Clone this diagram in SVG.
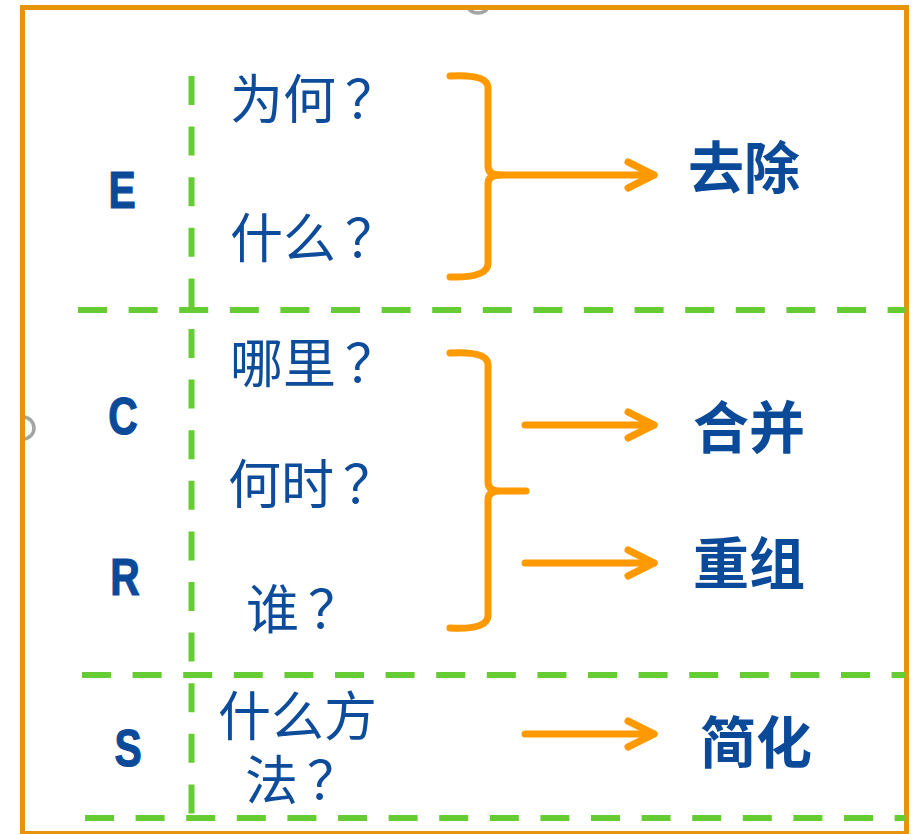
<svg xmlns="http://www.w3.org/2000/svg" width="914" height="834" viewBox="0 0 914 834">
<style>
.grid{stroke:#66CC33;stroke-width:6;fill:none;stroke-dasharray:29 21.6}
.q{font-family:"Noto Sans CJK SC","Noto Sans",sans-serif;font-size:53px;fill:#0D4C9B}
.res{font-family:"Noto Sans CJK SC","Noto Sans",sans-serif;font-size:56px;font-weight:bold;fill:#0B4A99}
.let{font-family:"Liberation Sans",Arial,sans-serif;font-size:51px;font-weight:bold;fill:#0B4A99;stroke:#0B4A99;stroke-width:1.2;text-anchor:middle}
.or{stroke:#FF9900;stroke-width:7;fill:none;stroke-linecap:round;stroke-linejoin:round}
.smudge{fill:none;stroke:#A4A4A4;stroke-width:3.5}
</style>
<defs>
<marker id="chev" markerUnits="userSpaceOnUse" markerWidth="40" markerHeight="40" refX="0" refY="0" orient="auto" overflow="visible">
<path d="M-26,-13 L0,0 L-26,13" fill="none" stroke="#FF9900" stroke-width="7" stroke-linecap="round" stroke-linejoin="round"/>
</marker>
</defs>
<rect width="914" height="834" fill="#FFFFFF"/>
<path class="smudge" d="M468,6 A10,7 0 0 0 488,6"/>
<path class="smudge" d="M23,417 A11,11 0 0 1 23,439"/>
<rect id="frame" x="22.5" y="7.5" width="884" height="826" fill="none" stroke="#E6950B" stroke-width="5"/>
<g id="grid">
<line class="grid" x1="191.5" y1="76" x2="191.5" y2="818"/>
<line class="grid" x1="78" y1="310" x2="905" y2="310"/>
<line class="grid" x1="82" y1="675" x2="905" y2="675"/>
<line class="grid" x1="85" y1="818" x2="905" y2="818"/>
</g>
<g id="row-E"><text class="let" transform="translate(122,208) scale(0.8,1)">E</text></g>
<g id="row-C"><text class="let" transform="translate(123,434) scale(0.8,1)">C</text></g>
<g id="row-R"><text class="let" transform="translate(125,595) scale(0.8,1)">R</text></g>
<g id="row-S"><text class="let" transform="translate(128,766) scale(0.8,1)">S</text></g>
<g id="q-why"><text class="q" x="230" y="119">为何<tspan dx="9">？</tspan></text></g>
<g id="q-what"><text class="q" x="230" y="258">什么<tspan dx="9">？</tspan></text></g>
<g id="q-where"><text class="q" x="230" y="383">哪里<tspan dx="9">？</tspan></text></g>
<g id="q-when"><text class="q" x="228" y="504">何时<tspan dx="9">？</tspan></text></g>
<g id="q-who"><text class="q" x="246" y="629">谁<tspan dx="9">？</tspan></text></g>
<g id="q-how"><text class="q"><tspan x="218" y="736">什么方</tspan><tspan x="245" y="800">法</tspan><tspan dx="9">？</tspan></text></g>
<g id="r-eliminate"><text class="res" x="688" y="188">去除</text></g>
<g id="r-combine"><text class="res" x="693" y="448">合并</text></g>
<g id="r-rearrange"><text class="res" x="693" y="584">重组</text></g>
<g id="r-simplify"><text class="res" x="700" y="763">简化</text></g>
<g id="brace-1"><path class="or" d="M450,76 Q487,74 488,87 L488,166 Q488,175 500,175 M500,175 Q488,175 488,184 L488,264 Q487,278 450,277"/></g>
<g id="brace-2"><path class="or" d="M450,353 Q487,351 488,364 L488,482 Q488,491 500,491 L526,491 M500,491 Q488,491 488,500 L488,616 Q487,630 450,628"/></g>
<g id="connectors">
<line class="or" x1="495" y1="175" x2="654" y2="175" marker-end="url(#chev)"/>
<line class="or" x1="525" y1="425" x2="654" y2="425" marker-end="url(#chev)"/>
<line class="or" x1="525" y1="563" x2="654" y2="563" marker-end="url(#chev)"/>
<line class="or" x1="525" y1="734" x2="654" y2="734" marker-end="url(#chev)"/>
</g>
</svg>
